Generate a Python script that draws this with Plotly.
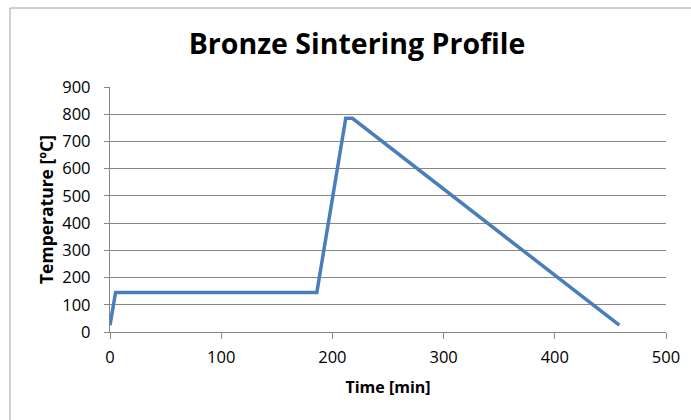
import plotly.graph_objects as go

time_min = [0, 5, 186, 212, 218, 458]
temperature_c = [25, 145, 145, 785, 785, 25]
x_ticks = [0, 100, 200, 300, 400, 500]
y_ticks = [0, 100, 200, 300, 400, 500, 600, 700, 800, 900]

W, H = 691, 420
L, R, T, B = 110, 25, 87, 88
pw, ph = W - L - R, H - T - B

def px_x(p):
    return (p - L) / pw

def px_y(p):
    return (H - B - p) / ph

FONT = "Open Sans, sans-serif"

fig = go.Figure()
fig.add_trace(go.Scatter(
    x=time_min, y=temperature_c, mode="lines",
    line=dict(color="#4A7EBB", width=3.5),
    hoverinfo="x+y", showlegend=False,
))

axis_color = "#868686"
tick_font = dict(family=FONT, size=16.5, color="#000000")

fig.update_layout(
    width=W, height=H,
    margin=dict(l=L, r=R, t=T, b=B),
    paper_bgcolor="white", plot_bgcolor="white",
    title=dict(text="<b>Bronze Sintering Profile</b>",
               font=dict(family=FONT, size=28.5, color="#000000"),
               x=357 / W, xanchor="center", y=1 - 44 / H, yanchor="middle"),
    xaxis=dict(range=[0, 500], tickvals=x_ticks, showgrid=False,
               showline=True, linecolor=axis_color, linewidth=1.3,
               ticks="outside", ticklen=6, tickcolor=axis_color,
               tickfont=tick_font, zeroline=False, ticklabelstandoff=4,
               title=dict(text="<b>Time [min]</b>",
                          font=dict(family=FONT, size=16, color="#000000"),
                          standoff=14)),
    yaxis=dict(range=[0, 900], tickvals=y_ticks, showgrid=True,
               gridcolor=axis_color, gridwidth=1.3,
               showline=True, linecolor=axis_color, linewidth=1.3,
               ticks="outside", ticklen=5, tickcolor=axis_color,
               tickfont=tick_font, zeroline=False, ticklabelstandoff=10,
               title=dict(text="<b>Temperature [ºC]</b>",
                          font=dict(family=FONT, size=17.5, color="#000000"),
                          standoff=4)),
)

fig.add_shape(type="rect", xref="paper", yref="paper",
              x0=px_x(10), x1=px_x(720), y0=px_y(450), y1=px_y(8),
              line=dict(color="#A0A0A0", width=1), layer="below")

fig.write_html("out.html", config={"displayModeBar": False},
               post_script="document.body.style.margin='0';document.body.style.overflow='hidden';")
